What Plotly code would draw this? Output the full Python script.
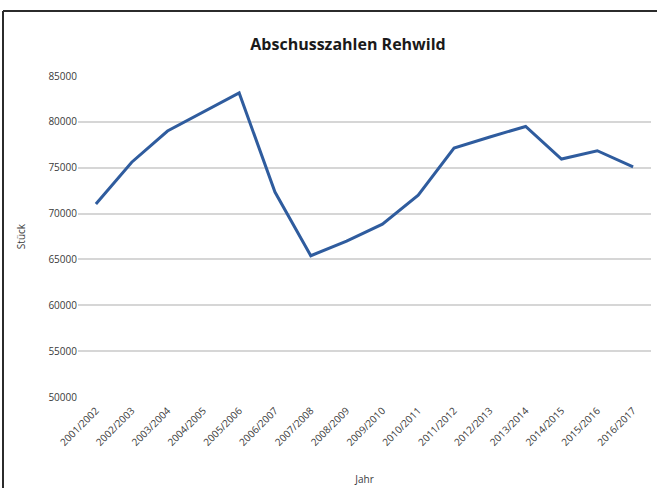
import plotly.graph_objects as go

# Hunting season labels and roe deer harvest counts
seasons = [
    "2001/2002", "2002/2003", "2003/2004", "2004/2005", "2005/2006",
    "2006/2007", "2007/2008", "2008/2009", "2009/2010", "2010/2011",
    "2011/2012", "2012/2013", "2013/2014", "2014/2015", "2015/2016",
    "2016/2017",
]
abschuss = [
    71050, 75600, 79000, 81100, 83150,
    72350, 65400, 67000, 68850, 72000,
    77150, 78350, 79500, 75950, 76850,
    75100,
]
y_ticks = [50000, 55000, 60000, 65000, 70000, 75000, 80000, 85000]

W, H = 657, 488
M_L, M_R, M_T, M_B = 78, 6, 76, 91
plot_w = W - M_L - M_R
plot_h = H - M_T - M_B

font_family = "Open Sans, Noto Sans, sans-serif"
text_col = "#3a3a3a"

fig = go.Figure()
fig.add_trace(go.Scatter(
    x=seasons, y=abschuss, mode="lines",
    line=dict(color="#2F5C9E", width=3),
    hoverinfo="x+y",
))

# frame on the left and top edges of the chart area
px_left = (3 - M_L) / plot_w
py_top = (H - M_B - 11) / plot_h
py_bottom = (H - M_B - H) / plot_h
px_right = (W - M_L) / plot_w
fig.add_shape(type="line", xref="paper", yref="paper",
              x0=px_left, x1=px_left, y0=py_bottom, y1=py_top,
              line=dict(color="#2b2b2b", width=2))
fig.add_shape(type="line", xref="paper", yref="paper",
              x0=px_left, x1=px_right, y0=py_top, y1=py_top,
              line=dict(color="#2b2b2b", width=2))

fig.update_layout(
    width=W, height=H,
    margin=dict(l=M_L, r=M_R, t=M_T, b=M_B),
    paper_bgcolor="white", plot_bgcolor="white",
    showlegend=False,
    font=dict(family=font_family, color=text_col, size=10),
    title=dict(
        text="<b>Abschusszahlen Rehwild</b>",
        x=348 / W, xref="container", xanchor="center",
        y=1 - 44 / H, yref="container", yanchor="middle",
        font=dict(size=16, color="#1a1a1a", family=font_family),
    ),
    xaxis=dict(
        type="category",
        range=[-0.5, len(seasons) - 0.5],
        automargin=False,
        tickangle=-45,
        showgrid=False, showline=False, ticks="outside",
        ticklen=3, tickcolor="rgba(0,0,0,0)",
        tickfont=dict(size=10, color=text_col),
        title=dict(text="Jahr", font=dict(size=10, color=text_col), standoff=28),
    ),
    yaxis=dict(
        range=[50000, 85000],
        automargin=False,
        tickvals=y_ticks,
        ticktext=[str(v) for v in y_ticks],
        showgrid=True, gridcolor="#d6d6d6", gridwidth=1.5,
        zeroline=False, showline=False, ticks="",
        ticklen=0,
        tickfont=dict(size=10, color=text_col),
        title=dict(text="Stück", font=dict(size=10, color=text_col), standoff=20),
    ),
)

fig.write_html("out.html")
